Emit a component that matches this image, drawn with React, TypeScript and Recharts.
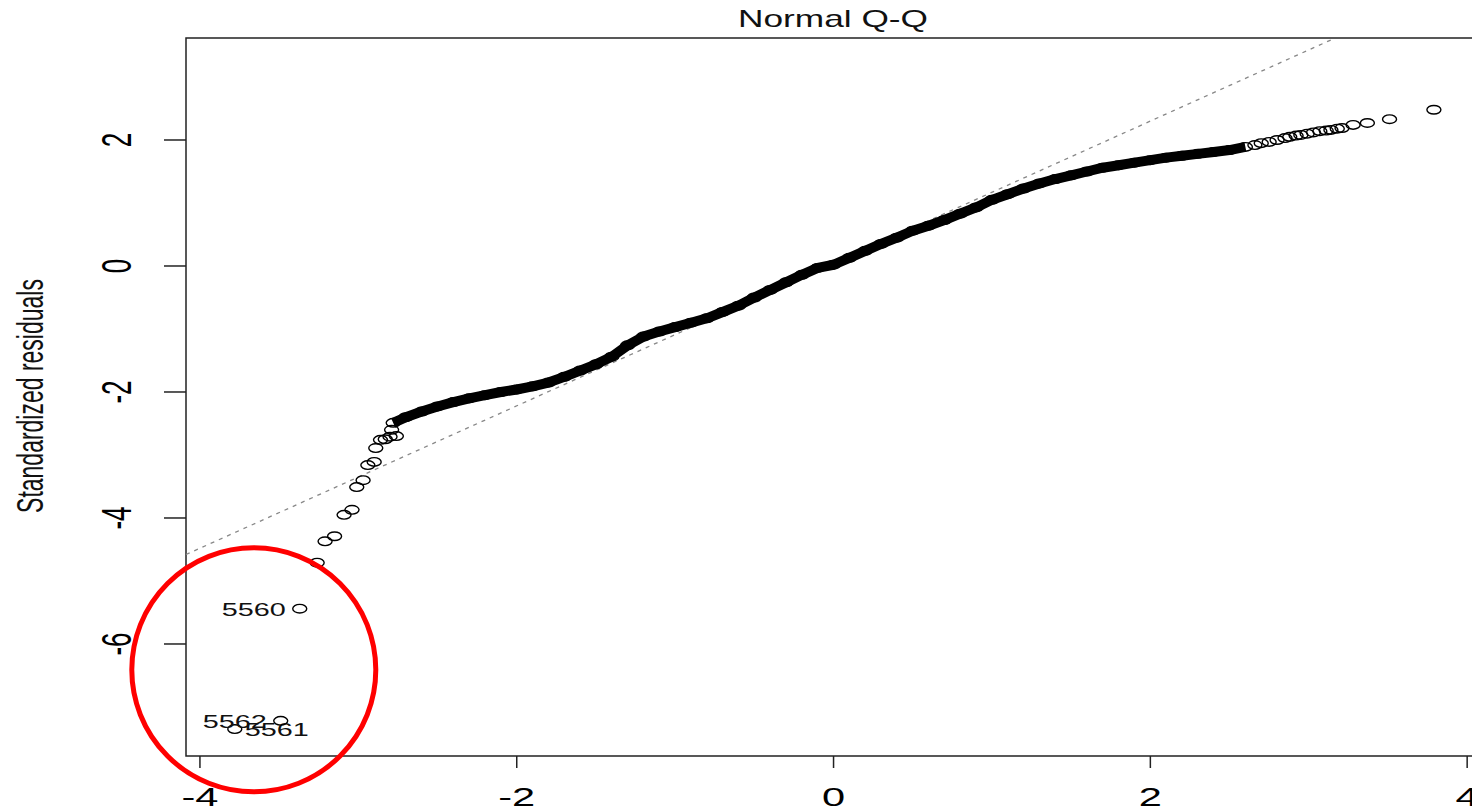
import React from "react";
import {
  ScatterChart, Scatter, XAxis, YAxis, ReferenceLine, ReferenceArea, ReferenceDot,
} from "recharts";

// theoretical quantile / standardized residual pairs
const BAND_X = [
  -2.78, -2.7, -2.6, -2.5, -2.4, -2.3, -2.2, -2.1, -2.0, -1.9, -1.8, -1.7, -1.6, -1.5,
  -1.4, -1.3, -1.2, -1.1, -1.0, -0.9, -0.8, -0.7, -0.6, -0.5, -0.4, -0.3, -0.2, -0.1,
  0, 0.1, 0.2, 0.3, 0.4, 0.5, 0.6, 0.7, 0.8, 0.9, 1.0, 1.1, 1.2, 1.3, 1.4, 1.5, 1.6,
  1.7, 1.8, 1.9, 2.0, 2.1, 2.2, 2.3, 2.4, 2.5, 2.6,
];
const BAND_Y = [
  -2.49, -2.4, -2.31, -2.23, -2.16, -2.1, -2.05, -2.0, -1.96, -1.91, -1.85, -1.76, -1.66, -1.56,
  -1.44, -1.26, -1.12, -1.04, -0.97, -0.9, -0.83, -0.73, -0.63, -0.5, -0.38, -0.26, -0.14, -0.03,
  0.02, 0.13, 0.24, 0.35, 0.45, 0.56, 0.64, 0.73, 0.83, 0.93, 1.05, 1.14, 1.23, 1.31, 1.38, 1.44, 1.5,
  1.56, 1.6, 1.64, 1.68, 1.72, 1.75, 1.78, 1.81, 1.84, 1.89,
];

const LOW_TAIL_X = [-3.26, -3.21, -3.15, -3.09, -3.04, -3.01, -2.97, -2.94, -2.9, -2.89, -2.86, -2.83, -2.8, -2.76, -2.79];
const LOW_TAIL_Y = [-4.71, -4.37, -4.29, -3.95, -3.87, -3.51, -3.4, -3.16, -3.11, -2.89, -2.76, -2.75, -2.71, -2.7, -2.6];

const HIGH_TAIL_X = [2.66, 2.7, 2.75, 2.8, 2.85, 2.88, 2.92, 2.95, 2.99, 3.03, 3.07, 3.11, 3.14, 3.18, 3.21, 3.28, 3.37, 3.51, 3.79];
const HIGH_TAIL_Y = [1.92, 1.95, 1.97, 2.0, 2.03, 2.05, 2.07, 2.08, 2.1, 2.12, 2.14, 2.15, 2.16, 2.18, 2.19, 2.24, 2.27, 2.33, 2.48];

const OUTLIER_IDS = ["5561", "5562", "5560"];
const OUTLIER_X = [-3.78, -3.49, -3.37];
const OUTLIER_Y = [-7.35, -7.22, -5.44];
const OUTLIER_SIDE = ["right", "left", "left"];

const X_TICKS = [-4, -2, 0, 2, 4];
const Y_TICKS = [-6, -4, -2, 0, 2];
const X_DOMAIN: [number, number] = [-4.088, 4.1];
const Y_DOMAIN: [number, number] = [-7.778, 3.619];

// qqline
const QQ_INTERCEPT = 0.04;
const QQ_SLOPE = 1.13;

// highlighted region (red circle) centre
const MARK_X = -3.66;
const MARK_Y = -6.41;

const SX = 1.6; // the original picture is stretched sideways
const FONT = "'Liberation Sans', Arial, Helvetica, sans-serif";

const zip = (xs: number[], ys: number[]) => xs.map((x, i) => ({ x, y: ys[i] }));
const band = zip(BAND_X, BAND_Y);
const tails = [...zip(LOW_TAIL_X, LOW_TAIL_Y), ...zip(HIGH_TAIL_X, HIGH_TAIL_Y)];
const outliers = OUTLIER_IDS.map((id, i) => ({ id, x: OUTLIER_X[i], y: OUTLIER_Y[i], side: OUTLIER_SIDE[i] }));

const Ring = (p: any) => (
  <ellipse cx={p.cx} cy={p.cy} rx={7} ry={4.3} fill="none" stroke="#000" strokeWidth={1.4} />
);

const LabelledRing = (p: any) => {
  const d = p.payload;
  const left = d.side === "left";
  return (
    <g>
      <ellipse cx={p.cx} cy={p.cy} rx={7} ry={4.3} fill="none" stroke="#000" strokeWidth={1.4} />
      <text
        transform={`translate(${left ? p.cx - 14 : p.cx + 10},${p.cy + 7}) scale(${SX},1)`}
        textAnchor={left ? "end" : "start"}
        fontSize={18}
        fontFamily={FONT}
        fill="#111"
      >
        {d.id}
      </text>
    </g>
  );
};

const XTick = ({ x, y, payload }: any) => (
  <text
    transform={`translate(${x},${y + 36}) scale(${SX},1)`}
    textAnchor="middle"
    fontSize={26}
    fontFamily={FONT}
    fill="#000"
  >
    {payload.value}
  </text>
);

const YTick = ({ x, y, payload }: any) => (
  <text
    transform={`translate(${x - 31},${y}) scale(${SX},1) rotate(-90)`}
    textAnchor="middle"
    fontSize={26}
    fontFamily={FONT}
    fill="#000"
  >
    {payload.value}
  </text>
);

export default function App() {
  const lineStart = { x: X_DOMAIN[0], y: QQ_INTERCEPT + QQ_SLOPE * X_DOMAIN[0] };
  const lineEnd = { x: (Y_DOMAIN[1] - QQ_INTERCEPT) / QQ_SLOPE, y: Y_DOMAIN[1] };

  return (
    <div style={{ position: "absolute", left: 0, top: 0, width: 1472, height: 809, overflow: "hidden", background: "#fff" }}>
      <ScatterChart width={1500} height={809} margin={{ top: 38, right: 17, bottom: 0, left: 0 }}>
        <XAxis
          type="number"
          dataKey="x"
          domain={X_DOMAIN}
          ticks={X_TICKS}
          interval={0}
          allowDataOverflow
          height={53}
          axisLine={false}
          tickSize={12}
          tickLine={{ stroke: "#222", strokeWidth: 1.5 }}
          tick={<XTick />}
        />
        <YAxis
          type="number"
          dataKey="y"
          domain={Y_DOMAIN}
          ticks={Y_TICKS}
          interval={0}
          allowDataOverflow
          width={186}
          axisLine={false}
          tickSize={22}
          tickLine={{ stroke: "#222", strokeWidth: 1.5 }}
          tick={<YTick />}
        />
        <ReferenceArea
          x1={X_DOMAIN[0]} x2={X_DOMAIN[1]} y1={Y_DOMAIN[0]} y2={Y_DOMAIN[1]}
          fill="none" fillOpacity={0} stroke="#222" strokeWidth={1.5} ifOverflow="visible"
        />
        <Scatter
          data={band}
          shape={<Ring />}
          line={{ stroke: "#000", strokeWidth: 10, strokeLinejoin: "round" }}
          lineType="joint"
          isAnimationActive={false}
        />
        <Scatter data={tails} shape={<Ring />} isAnimationActive={false} />
        <Scatter data={outliers} shape={<LabelledRing />} isAnimationActive={false} />
        <ReferenceLine
          segment={[lineStart, lineEnd]}
          stroke="#888"
          strokeWidth={1.3}
          strokeDasharray="4 5"
          ifOverflow="visible"
        />
        <ReferenceDot
          x={MARK_X}
          y={MARK_Y}
          ifOverflow="visible"
          shape={(p: any) => (
            <ellipse cx={p.cx} cy={p.cy} rx={122} ry={122} fill="none" stroke="#ff0000" strokeWidth={5} />
          )}
        />
        <text transform={`translate(833,27) scale(1.47,1)`} textAnchor="middle" fontSize={24} fontFamily={FONT} fill="#111">
          Normal Q-Q
        </text>
        <text transform={`translate(43,396) scale(${SX},1) rotate(-90)`} textAnchor="middle" fontSize={23} fontFamily={FONT} fill="#111">
          Standardized residuals
        </text>
      </ScatterChart>
    </div>
  );
}
